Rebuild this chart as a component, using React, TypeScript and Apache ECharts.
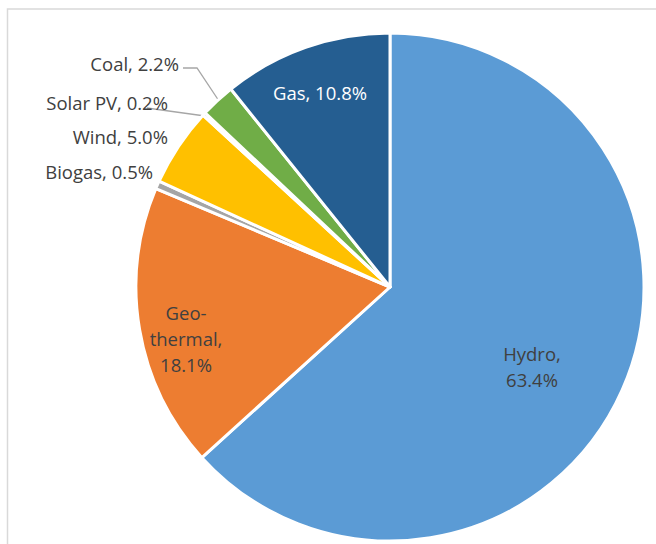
import React, { useEffect, useRef } from "react";
import * as echarts from "echarts";

const categories = ["Hydro", "Geo-thermal", "Biogas", "Wind", "Solar PV", "Coal", "Gas"];
const shares = [63.4, 18.1, 0.5, 5.0, 0.2, 2.2, 10.8];
const labelTexts = ["Hydro,\n63.4%", "Geo-\nthermal,\n18.1%", "Biogas, 0.5%", "Wind, 5.0%", "Solar PV, 0.2%", "Coal, 2.2%", "Gas, 10.8%"];
const colors = ["#5B9BD5", "#ED7D31", "#A5A5A5", "#FFC000", "#4472C4", "#70AD47", "#255E91"];

const labelPlacement: any[] = [
  { x: 532, y: 366, align: "center" },
  { x: 186, y: 338, align: "center" },
  { x: 153, y: 171, align: "right" },
  { x: 168, y: 136, align: "right" },
  { x: 168, y: 102, align: "right", line: [[147, 108], [176, 112], [205, 116]] },
  { x: 179, y: 63, align: "right", line: [[183, 68], [197, 68], [219, 101]] },
  { x: 320, y: 92, align: "center" },
];

export default function App() {
  const ref = useRef<HTMLDivElement>(null);
  useEffect(() => {
    if (!ref.current) return;
    const chart = echarts.init(ref.current, null, { renderer: "svg" });
    chart.setOption({
      animation: false,
      graphic: [
        {
          type: "rect",
          shape: { x: 7.5, y: 9, width: 720, height: 620 },
          style: { fill: "none", stroke: "#D9D9D9", lineWidth: 1.5 },
          z: -1,
        },
      ],
      series: [
        {
          type: "pie",
          center: [390, 287],
          radius: [0, 254],
          startAngle: 90,
          clockwise: true,
          avoidLabelOverlap: false,
          itemStyle: { borderColor: "#FFFFFF", borderWidth: 3 },
          label: {
            show: true,
            position: "outside",
            fontFamily: "Open Sans",
            fontSize: 18.5,
            lineHeight: 26,
            color: "#404040",
          },
          labelLine: { show: true, lineStyle: { color: "#A6A6A6", width: 1.3 } },
          labelLayout: (p: any) => {
            const pl = labelPlacement[p.dataIndex];
            const out: any = { x: pl.x, y: pl.y, align: pl.align, verticalAlign: "middle" };
            if (pl.line) out.labelLinePoints = pl.line;
            return out;
          },
          data: categories.map((name, i) => ({
            name,
            value: shares[i],
            itemStyle: { color: colors[i] },
            label: {
              formatter: labelTexts[i],
              color: name === "Gas" ? "#FFFFFF" : "#404040",
              align: labelPlacement[i].align,
            },
            labelLine: { show: !!labelPlacement[i].line },
          })),
        },
      ],
    });
    return () => chart.dispose();
  }, []);
  return (
    <div
      ref={ref}
      style={{ position: "fixed", left: 0, top: 0, width: 656, height: 544, background: "#FFFFFF" }}
    />
  );
}
